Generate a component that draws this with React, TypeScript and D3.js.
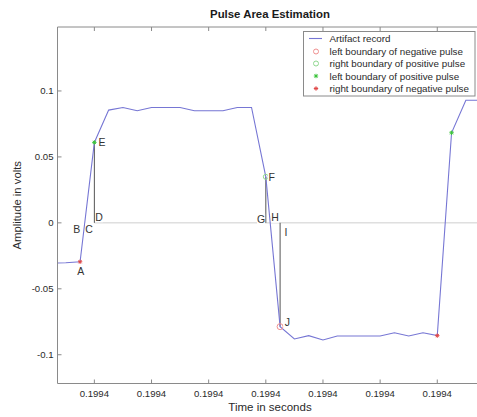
import React from "react";
import * as d3 from "d3";

// sample index (time step) and amplitude in volts
const sampleIdx = [-3, -2, -1, 0, 1, 2, 3, 4, 5, 6, 7, 8, 9, 10, 11, 12, 13, 14, 15, 16, 17, 18, 19, 20, 21, 22, 23, 24, 25, 26, 27, 28];
const amplitude = [-0.0305, -0.0302, -0.0295, 0.061, 0.0855, 0.0875, 0.085, 0.0875, 0.0875, 0.0875, 0.085, 0.085, 0.085, 0.0875, 0.0875, 0.0349, -0.0787, -0.088, -0.0855, -0.0888, -0.0858, -0.0858, -0.0858, -0.0858, -0.0833, -0.0858, -0.0833, -0.0855, 0.0683, 0.093, 0.093, 0.093];

const xTickIdx = [0, 4, 8, 12, 16, 20, 24];
const xTickLabels = ["0.1994", "0.1994", "0.1994", "0.1994", "0.1994", "0.1994", "0.1994"];
const yTicks = [0.1, 0.05, 0, -0.05, -0.1];
const yTickLabels = ["0.1", "0.05", "0", "-0.05", "-0.1"];

// markers
const leftNegIdx = [13]; // red circle
const rightPosIdx = [12]; // green circle
const leftPosIdx = [0, 25]; // green star
const rightNegIdx = [-1, 24]; // red star

// vertical area lines
const vLineIdx = [0, 12, 13];

// annotation labels
const annNames = ["A", "B", "C", "D", "E", "F", "G", "H", "I", "J"];
const annX = [-0.95, -1.23, -0.37, 0.33, 0.54, 12.42, 11.67, 12.65, 13.41, 13.5];
const annY = [-0.0363, -0.0047, -0.0047, 0.0046, 0.0612, 0.0349, 0.0029, 0.0042, -0.0067, -0.0754];

const legendLabels = [
  "Artifact record",
  "left boundary of negative pulse",
  "right boundary of positive pulse",
  "left boundary of positive pulse",
  "right boundary of negative pulse",
];

const W = 477, H = 417;
const L = 57.5, R = 483, T = 27, B = 383.5;
const FONT = "'Liberation Sans', Arial, sans-serif";
const LINE = "#7676d4";
const RED = "#e04848";
const GREEN = "#3cc43c";

function valAt(i: number) {
  return amplitude[sampleIdx.indexOf(i)];
}

function Star({ x, y, c }: { x: number; y: number; c: string }) {
  const s = 2.2;
  return (
    <g stroke={c} strokeWidth={1}>
      <line x1={x - s} y1={y} x2={x + s} y2={y} />
      <line x1={x} y1={y - s} x2={x} y2={y + s} />
      <line x1={x - s * 0.7} y1={y - s * 0.7} x2={x + s * 0.7} y2={y + s * 0.7} />
      <line x1={x - s * 0.7} y1={y + s * 0.7} x2={x + s * 0.7} y2={y - s * 0.7} />
    </g>
  );
}

export default function App() {
  const x = d3.scaleLinear().domain([-2.58, 27.2]).range([L, R]);
  const y = d3.scaleLinear().domain([-0.1218, 0.1485]).range([B, T]);
  const line = d3
    .line<number>()
    .x((_, i) => x(sampleIdx[i]))
    .y((d) => y(d));

  const axisColor = "#8a8a8a";
  const textColor = "#2a2a2a";

  const lgX = 303.5, lgY = 31.5, lgW = 171.5, lgH = 64.5;
  const rowY = [38.5, 51.5, 63.5, 76, 88.5];

  return (
    <svg width={W} height={H} style={{ position: "absolute", left: 0, top: 0, background: "#fff" }} fontFamily={FONT}>
      <defs>
        <clipPath id="plot">
          <rect x={L} y={T} width={R - L} height={B - T} />
        </clipPath>
      </defs>
      <rect width={W} height={H} fill="#fff" />
      {/* zero line */}
      <line x1={x(0)} x2={R} y1={y(0)} y2={y(0)} stroke="#cfcfcf" strokeWidth={1} />
      {/* vertical area lines */}
      {vLineIdx.map((k) => (
        <line key={k} x1={x(k)} x2={x(k)} y1={y(0)} y2={y(valAt(k))} stroke="#555" strokeWidth={1} />
      ))}
      {/* data line */}
      <path d={line(amplitude) || ""} fill="none" stroke={LINE} strokeWidth={1.1} clipPath="url(#plot)" />
      {/* markers */}
      {leftNegIdx.map((k) => (
        <circle key={"ln" + k} cx={x(k)} cy={y(valAt(k))} r={3} fill="none" stroke="#f09090" strokeWidth={1} />
      ))}
      {rightPosIdx.map((k) => (
        <circle key={"rp" + k} cx={x(k)} cy={y(valAt(k))} r={2.5} fill="none" stroke="#8fd88f" strokeWidth={1} />
      ))}
      {leftPosIdx.map((k) => (
        <Star key={"lp" + k} x={x(k)} y={y(valAt(k))} c={GREEN} />
      ))}
      {rightNegIdx.map((k) => (
        <Star key={"rn" + k} x={x(k)} y={y(valAt(k))} c={RED} />
      ))}
      {/* annotation labels */}
      {annNames.map((n, i) => {
        const tx = x(annX[i]);
        const ty = y(annY[i]);
        return (
          <g key={n}>
            <rect x={tx - 4} y={ty - 5.5} width={8} height={11} fill="#fff" />
            <text x={tx} y={ty} textAnchor="middle" dominantBaseline="central" fontSize={10.5} fill="#333">
              {n}
            </text>
          </g>
        );
      })}
      {/* axes box (left, top, bottom) */}
      <line x1={L} x2={L} y1={T} y2={B} stroke={axisColor} />
      <line x1={L} x2={R} y1={T} y2={T} stroke={axisColor} />
      <line x1={L} x2={R} y1={B} y2={B} stroke={axisColor} />
      {xTickIdx.map((k, i) => (
        <g key={"xt" + i}>
          <line x1={x(k)} x2={x(k)} y1={B} y2={B - 4} stroke={axisColor} />
          <line x1={x(k)} x2={x(k)} y1={T} y2={T + 4} stroke={axisColor} />
          <text x={x(k)} y={B + 10} textAnchor="middle" dominantBaseline="central" fontSize={9.6} fill={textColor}>
            {xTickLabels[i]}
          </text>
        </g>
      ))}
      {yTicks.map((v, i) => (
        <g key={"yt" + i}>
          <line x1={L} x2={L + 4} y1={y(v)} y2={y(v)} stroke={axisColor} />
          <text x={L - 4} y={y(v)} textAnchor="end" dominantBaseline="central" fontSize={9.6} fill={textColor}>
            {yTickLabels[i]}
          </text>
        </g>
      ))}
      {/* title & labels */}
      <text x={270} y={14} textAnchor="middle" dominantBaseline="central" fontSize={11.4} fontWeight="bold" fill="#1a1a1a">
        Pulse Area Estimation
      </text>
      <text x={270} y={407} textAnchor="middle" dominantBaseline="central" fontSize={11.5} fill={textColor}>
        Time in seconds
      </text>
      <text
        transform={`translate(17,${(T + B) / 2}) rotate(-90)`}
        textAnchor="middle"
        dominantBaseline="central"
        fontSize={11.3}
        fill={textColor}
      >
        Amplitude in volts
      </text>
      {/* legend */}
      <rect x={lgX} y={lgY} width={lgW} height={lgH} fill="#fff" stroke={axisColor} />
      <line x1={309} x2={322} y1={rowY[0]} y2={rowY[0]} stroke={LINE} strokeWidth={1.1} />
      <circle cx={316} cy={rowY[1]} r={2.5} fill="none" stroke="#f09090" />
      <circle cx={316} cy={rowY[2]} r={2.5} fill="none" stroke="#8fd88f" />
      <Star x={316} y={rowY[3]} c={GREEN} />
      <Star x={316} y={rowY[4]} c={RED} />
      {legendLabels.map((t, i) => (
        <text key={t} x={329.5} y={rowY[i]} dominantBaseline="central" fontSize={9.8} fill={textColor}>
          {t}
        </text>
      ))}
    </svg>
  );
}
